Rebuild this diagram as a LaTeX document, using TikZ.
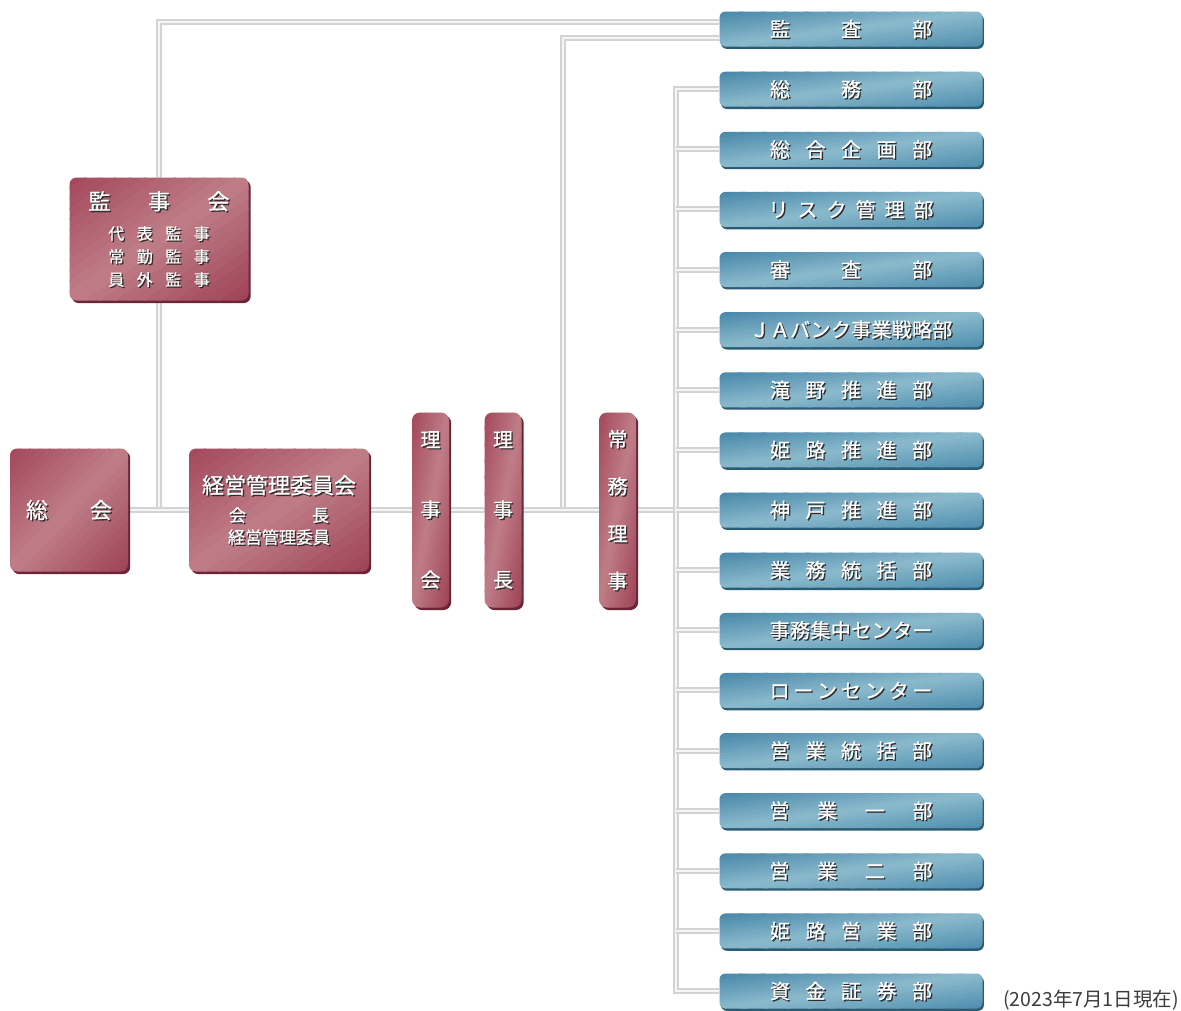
\documentclass[tikz,border=0pt]{standalone}
\usepackage{fontspec}
\setmainfont{Noto Sans CJK JP}
\newfontfamily\jpm{Noto Sans CJK JP}[FakeBold=0.6]
\usetikzlibrary{shadows,calc}
\definecolor{mA}{HTML}{A3475B}
\definecolor{mB}{HTML}{BF7E87}
\definecolor{mC}{HTML}{9E4256}
\definecolor{mS}{HTML}{6A2636}
\definecolor{bA}{HTML}{4686A9}
\definecolor{bB}{HTML}{8CBACD}
\definecolor{bC}{HTML}{4E8EAE}
\definecolor{bS}{HTML}{2B5C73}
\definecolor{lnO}{HTML}{D2D3D5}
\definecolor{lnI}{HTML}{F6F6F6}
\definecolor{tshd}{HTML}{2E2E2E}
\definecolor{datec}{HTML}{3C3C3C}
\pgfdeclarelayer{bg}
\pgfsetlayers{bg,main}
\newcommand\shd[1]{\leavevmode\rlap{\kern1.3pt\raisebox{-1.3pt}[0pt][0pt]{\textcolor{tshd}{#1}}}#1}
\newcommand\spaced[2]{\def\sppitch{#1}\expandafter\spacedaux#2\relax}
\def\spacedaux#1{\ifx\relax#1\else\makebox[\sppitch]{#1}\expandafter\spacedaux\fi}
\newcommand\lbl[2]{\shd{\spaced{#1}{#2}}}
\tikzset{
  grad/.style n args={3}{path picture={
    \foreach \k in {0,...,23}{
      \pgfmathsetmacro\ta{\k/24}
      \pgfmathsetmacro\tb{(\k+1.15)/24}
      \pgfmathsetmacro\tm{(\k+0.5)/24}
      \pgfmathsetmacro\pa{min(100,200*\tm)}
      \pgfmathsetmacro\pb{max(0,200*\tm-100)}
      \ifdim\tm pt<0.5pt
        \colorlet{bandc}{#2!\pa!#1}
      \else
        \colorlet{bandc}{#3!\pb!#2}
      \fi
      \fill[bandc]
        ($(path picture bounding box.north west)!\ta!(path picture bounding box.south east)+(path picture bounding box.north east)-(path picture bounding box.south west)$) --
        ($(path picture bounding box.north west)!\tb!(path picture bounding box.south east)+(path picture bounding box.north east)-(path picture bounding box.south west)$) --
        ($(path picture bounding box.north west)!\tb!(path picture bounding box.south east)-(path picture bounding box.north east)+(path picture bounding box.south west)$) --
        ($(path picture bounding box.north west)!\ta!(path picture bounding box.south east)-(path picture bounding box.north east)+(path picture bounding box.south west)$) -- cycle;
    }}}
}
\begin{document}
\begin{tikzpicture}[x=1pt,y=-1pt,
  maroon/.style={rounded corners=7pt, grad={mA}{mB}{mC}, text=white, align=center, inner sep=0pt,
    drop shadow={shadow xshift=2.2pt, shadow yshift=-2.6pt, opacity=1, fill=mS}},
  mvert/.style={maroon, minimum width=37pt, minimum height=195pt, rounded corners=8pt},
  dept/.style={rounded corners=6pt, grad={bA}{bB}{bC}, text=white, inner sep=0pt,
    minimum width=263pt, minimum height=35pt, font=\jpm\fontsize{20}{24}\selectfont,
    drop shadow={shadow xshift=1.4pt, shadow yshift=-2.4pt, opacity=1, fill=bS}},
  conn/.style={draw=lnO, line width=2pt, double=lnI, double distance=2pt}]
\begin{pgfonlayer}{bg}
\fill[white] (0,0) rectangle (1181,1010);
\end{pgfonlayer}
\useasboundingbox (0,0) rectangle (1181,1010);

% maroon boxes
\node[maroon, minimum width=179pt, minimum height=123pt, font=\jpm\fontsize{16}{23}\selectfont] (kansa) at (159,239)
  {{\fontsize{22}{22}\selectfont\lbl{59.5pt}{監事会}}\\[7pt]
   \lbl{28.5pt}{代表監事}\\ \lbl{28.5pt}{常勤監事}\\ \lbl{28.5pt}{員外監事}};
\node[maroon, minimum width=118pt, minimum height=123pt, font=\jpm\fontsize{22}{26}\selectfont] (soukai) at (69,510)
  {\shd{総\hspace{42pt}会}};
\node[maroon, minimum width=180pt, minimum height=123pt, font=\jpm\fontsize{17}{22}\selectfont] (keiei) at (279,510)
  {{\fontsize{22}{22}\selectfont\shd{経営管理委員会}}\\[6pt]
   \lbl{83pt}{会長}\\ \shd{経営管理委員}};
\node[mvert, font=\jpm\fontsize{20}{70}\selectfont] (rijikai) at (430.5,510) {\shd{理}\\\shd{事}\\\shd{会}};
\node[mvert, font=\jpm\fontsize{20}{70}\selectfont] (rijicho) at (503,510) {\shd{理}\\\shd{事}\\\shd{長}};
\node[mvert, font=\jpm\fontsize{20}{47.3}\selectfont] (jomu) at (617.5,510) {\shd{常}\\\shd{務}\\\shd{理}\\\shd{事}};

% departments
\node[dept] (b1)  at (851,29)    {\lbl{35.5pt}{監　査　部}};
\node[dept] (b2)  at (851,89.1)  {\lbl{35.5pt}{総　務　部}};
\node[dept] (b3)  at (851,149.3) {\lbl{35.5pt}{総合企画部}};
\node[dept] (b4)  at (851,209.4) {\lbl{29pt}{リスク管理部}};
\node[dept] (b5)  at (851,269.5) {\lbl{35.5pt}{審　査　部}};
\node[dept] (b6)  at (851,329.6) {\lbl{20.3pt}{ＪＡバンク事業戦略部}};
\node[dept] (b7)  at (851,389.8) {\lbl{35.5pt}{滝野推進部}};
\node[dept] (b8)  at (851,449.9) {\lbl{35.5pt}{姫路推進部}};
\node[dept] (b9)  at (851,510)   {\lbl{35.5pt}{神戸推進部}};
\node[dept] (b10) at (851,570.1) {\lbl{35.5pt}{業務統括部}};
\node[dept] (b11) at (851,630.3) {\lbl{20.4pt}{事務集中センター}};
\node[dept] (b12) at (851,690.4) {\lbl{23.8pt}{ローンセンター}};
\node[dept] (b13) at (851,750.5) {\lbl{35.5pt}{営業統括部}};
\node[dept] (b14) at (851,810.6) {\lbl{47.7pt}{営業一部}};
\node[dept] (b15) at (851,870.8) {\lbl{47.7pt}{営業二部}};
\node[dept] (b16) at (851,930.9) {\lbl{35.5pt}{姫路営業部}};
\node[dept] (b17) at (851,991)   {\lbl{35.5pt}{資金証券部}};

\node[anchor=east, inner sep=0pt, text=datec, font=\fontsize{19.5}{23}\selectfont] (date) at (1179,1000) {(2023年7月1日現在)};

\coordinate (tk) at (676,510);
\coordinate (j2) at (563,510);

\begin{pgfonlayer}{bg}
\draw[conn] (kansa.north) |- ([yshift=7pt]b1.west);
\draw[conn] (j2) |- ([yshift=-9pt]b1.west);
\draw[conn] (kansa.south) -- (kansa.south |- soukai.east);
\draw[conn] (soukai.east) -- (keiei.west);
\draw[conn] (keiei.east) -- (rijikai.west);
\draw[conn] (rijikai.east) -- (rijicho.west);
\draw[conn] (rijicho.east) -- (jomu.west);
\draw[conn] (jomu.east) -- (tk);
\draw[conn] (b2.west) -| (tk) |- (b17.west);
\foreach \i in {3,...,16} {\draw[conn] (b\i.west) -- (b\i.west -| tk);}
\end{pgfonlayer}
\end{tikzpicture}
\end{document}
